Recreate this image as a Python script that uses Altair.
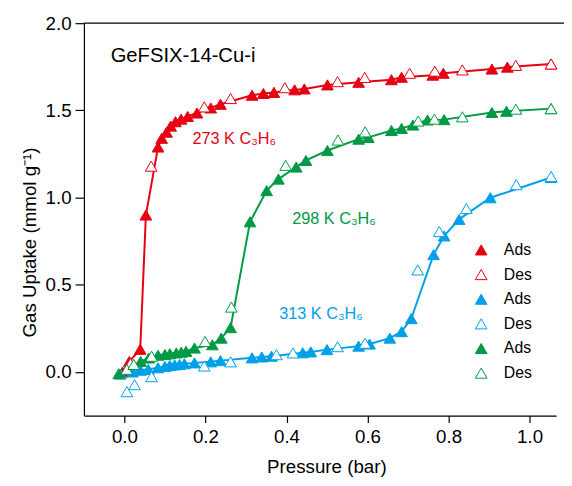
import altair as alt
import pandas as pd

# ---- data ----
red_ads_x = [-0.005, 0.012, 0.039, 0.053, 0.083, 0.092, 0.104, 0.114, 0.126, 0.14, 0.156, 0.179, 0.213, 0.237,
             0.315, 0.343, 0.369, 0.42, 0.444, 0.501, 0.578, 0.659, 0.684, 0.761, 0.787, 0.907, 0.945, 1.053]
red_ads_y = [0.0, 0.06, 0.13, 0.90, 1.29, 1.34, 1.375, 1.41, 1.435, 1.45, 1.465, 1.485, 1.514, 1.535,
             1.587, 1.597, 1.603, 1.618, 1.623, 1.646, 1.661, 1.676, 1.69, 1.702, 1.713, 1.737, 1.748, 1.766]
red_des_x = [0.015, 0.066, 0.197, 0.262, 0.396, 0.526, 0.593, 0.704, 0.766, 0.834, 0.966, 1.053]
red_des_y = [0.05, 1.18, 1.52, 1.568, 1.63, 1.665, 1.689, 1.713, 1.725, 1.732, 1.758, 1.766]

green_ads_x = [-0.014, 0.04, 0.06, 0.083, 0.1, 0.112, 0.128, 0.14, 0.152, 0.173, 0.217, 0.239, 0.262,
               0.31, 0.351, 0.38, 0.424, 0.448, 0.501, 0.578, 0.602, 0.659, 0.684, 0.712, 0.748, 0.789,
               0.907, 0.943, 1.053]
green_ads_y = [-0.01, 0.06, 0.08, 0.096, 0.1, 0.104, 0.109, 0.113, 0.118, 0.137, 0.156, 0.194, 0.254,
               0.861, 1.04, 1.106, 1.175, 1.213, 1.27, 1.335, 1.345, 1.385, 1.397, 1.416, 1.445, 1.447,
               1.488, 1.495, 1.51]
green_des_x = [0.006, 0.023, 0.067, 0.199, 0.264, 0.398, 0.527, 0.594, 0.725, 0.765, 0.834, 0.966, 1.053]
green_des_y = [0.015, 0.043, 0.09, 0.175, 0.372, 1.185, 1.33, 1.377, 1.439, 1.45, 1.463, 1.507, 1.51]

blue_ads_x = [-0.01, 0.02, 0.04, 0.059, 0.083, 0.1, 0.112, 0.124, 0.136, 0.148, 0.173, 0.213, 0.237,
              0.315, 0.339, 0.363, 0.44, 0.46, 0.5, 0.578, 0.605, 0.655, 0.684, 0.708, 0.763, 0.789,
              0.826, 0.903, 1.053]
blue_ads_y = [-0.012, 0.0, 0.01, 0.015, 0.024, 0.032, 0.037, 0.04, 0.043, 0.047, 0.052, 0.058, 0.065,
              0.081, 0.086, 0.09, 0.11, 0.115, 0.128, 0.148, 0.16, 0.194, 0.231, 0.306, 0.673, 0.78,
              0.875, 0.999, 1.115]
blue_des_x = [0.006, 0.025, 0.067, 0.197, 0.262, 0.375, 0.416, 0.526, 0.594, 0.724, 0.777, 0.844, 0.967, 1.053]
blue_des_y = [-0.113, -0.073, -0.027, 0.034, 0.058, 0.099, 0.109, 0.145, 0.165, 0.585, 0.805, 0.937, 1.074, 1.121]

temps = ["273", "313", "298"]
colors = ["#E60012", "#00A0E9", "#009944"]
series = {
    "273": (red_ads_x, red_ads_y, red_des_x, red_des_y),
    "313": (blue_ads_x, blue_ads_y, blue_des_x, blue_des_y),
    "298": (green_ads_x, green_ads_y, green_des_x, green_des_y),
}

rows = []
for t in temps:
    ax, ay, dx, dy = series[t]
    for x, y in zip(ax, ay):
        rows.append({"temp": t, "kind": "Ads", "key": f"{t} Ads", "p": x, "q": y})
    for x, y in zip(dx, dy):
        rows.append({"temp": t, "kind": "Des", "key": f"{t} Des", "p": x, "q": y})
df = pd.DataFrame(rows)

keys = ["273 Ads", "273 Des", "313 Ads", "313 Des", "298 Ads", "298 Des"]
fills = ["#E60012", "white", "#00A0E9", "white", "#009944", "white"]
strokes = ["#E60012", "#E60012", "#00A0E9", "#00A0E9", "#009944", "#009944"]

ann_text = ["273 K C₃H₆", "298 K C₃H₆", "313 K C₃H₆"]
ann_x = [0.168, 0.414, 0.382]
ann_y = [1.335, 0.875, 0.33]
ann_temp = ["273", "298", "313"]
ann = pd.DataFrame({"text": ann_text, "p": ann_x, "q": ann_y, "temp": ann_temp})

W, H = 479, 398
xscale = alt.Scale(domain=[-0.1, -0.1 + W / 411.0], nice=False, zero=False)
yscale = alt.Scale(domain=[-0.25, 2.0], nice=False, zero=False)

xenc = alt.X("p:Q", scale=xscale,
             axis=alt.Axis(title="Pressure (bar)", values=[0, 0.2, 0.4, 0.6, 0.8, 1.0], format=".1f",
                           grid=False, tickSize=7, labelPadding=5, titlePadding=12, titleX=246))
yenc = alt.Y("q:Q", scale=yscale,
             axis=alt.Axis(title="Gas Uptake (mmol g⁻¹)", values=[0, 0.5, 1.0, 1.5, 2.0], format=".1f",
                           grid=False, tickSize=9, labelPadding=4, titlePadding=6, titleY=222))

base = alt.Chart(df)

lines = base.transform_filter(alt.datum.kind == "Ads").mark_line(strokeWidth=2).encode(
    x=xenc, y=yenc,
    color=alt.Color("temp:N", scale=alt.Scale(domain=temps, range=colors), legend=None),
    detail="temp:N",
    order="p:Q",
)

legend = alt.Legend(title=None, orient="none", legendX=395, legendY=222, labelFontSize=16,
                    labelExpr="slice(datum.label, 4)", symbolSize=140, rowPadding=9,
                    labelOffset=15, symbolStrokeWidth=1, labelColor="#000", padding=0)

points = base.mark_point(shape="triangle-up", size=140, strokeWidth=1, opacity=1, fillOpacity=1).encode(
    x=xenc, y=yenc,
    fill=alt.Fill("key:N", scale=alt.Scale(domain=keys, range=fills), legend=legend),
    stroke=alt.Stroke("key:N", scale=alt.Scale(domain=keys, range=strokes), legend=legend),
    order=alt.Order("kind:N"),
)

labels = alt.Chart(ann).mark_text(align="left", baseline="middle", fontSize=16.5, font="Liberation Sans").encode(
    x=alt.X("p:Q", scale=xscale), y=alt.Y("q:Q", scale=yscale), text="text:N",
    color=alt.Color("temp:N", scale=alt.Scale(domain=temps, range=colors), legend=None),
)

title_df = pd.DataFrame({"text": ["GeFSIX-14-Cu-i"], "p": [-0.034], "q": [1.813]})
title = alt.Chart(title_df).mark_text(align="left", baseline="middle", fontSize=20.5, font="Liberation Sans",
                                       color="#000").encode(
    x=alt.X("p:Q", scale=xscale), y=alt.Y("q:Q", scale=yscale), text="text:N")

topline = alt.Chart(title_df).mark_rule(color="#000", strokeWidth=1.2).encode(
    x=alt.value(0), x2=alt.value(W + 10), y=alt.value(0))

chart = alt.layer(lines, points, labels, title, topline).properties(
    width=W, height=H,
    autosize=alt.AutoSizeParams(type="none"),
    padding={"left": 77, "top": 12, "right": 8, "bottom": 64},
).configure_view(stroke=None).configure_axis(
    domainColor="#000", tickColor="#000", labelColor="#000", titleColor="#000",
    labelFont="Liberation Sans", titleFont="Liberation Sans", labelFontSize=19, titleFontSize=19,
    titleFontWeight="normal", domainWidth=1.2, tickWidth=1.2,
).configure_legend(labelFont="Liberation Sans")

chart.save("out.html", embed_options={"renderer": "svg", "actions": False})
